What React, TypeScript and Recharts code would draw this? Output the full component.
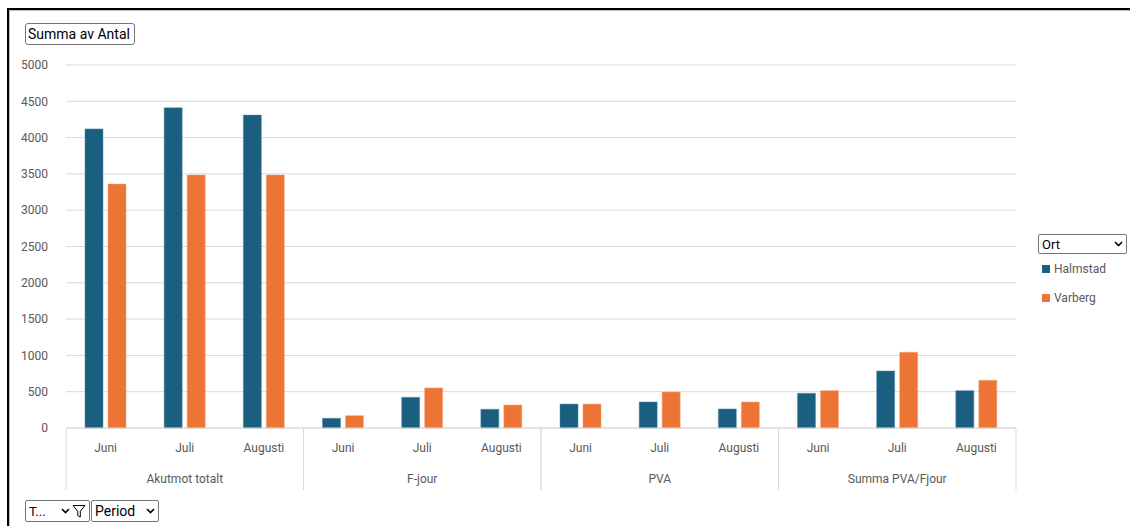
import { BarChart, Bar, XAxis, YAxis, CartesianGrid } from 'recharts';

const groups = ['Akutmot totalt', 'F-jour', 'PVA', 'Summa PVA/Fjour'];
const months = ['Juni', 'Juli', 'Augusti'];
const halmstad = [4120, 4410, 4310, 134, 423, 258, 330, 358, 262, 478, 785, 514];
const varberg = [3360, 3485, 3485, 170, 551, 317, 330, 496, 358, 514, 1043, 657];
const yTicks = [0, 500, 1000, 1500, 2000, 2500, 3000, 3500, 4000, 4500, 5000];
const series = [
  { name: 'Halmstad', color: '#1a5e80', edge: '#5a8aa3' },
  { name: 'Varberg', color: '#ec7434', edge: '#f3a37a' },
];

const data = halmstad.map((h, i) => ({
  key: `${groups[Math.floor(i / 3)]}|${months[i % 3]}`,
  month: months[i % 3],
  group: groups[Math.floor(i / 3)],
  Halmstad: h,
  Varberg: varberg[i],
}));

const W = 1130;
const H = 526;
const PLOT_LEFT = 66;
const PLOT_RIGHT = 1016;
const STEP = (PLOT_RIGHT - PLOT_LEFT) / data.length;
const FONT = 'Roboto, "Liberation Sans", sans-serif';
const GREY = '#d9d9d9';
const TEXT = '#595959';

function CategoryTick(props: any) {
  const { x, y, index } = props;
  const d = data[index];
  return (
    <g>
      <text x={x} y={y + 16} textAnchor="middle" fill={TEXT} fontSize={12} fontFamily={FONT}>
        {d ? d.month : ''}
      </text>
      {index % 3 === 0 && (
        <line x1={x - STEP / 2} x2={x - STEP / 2} y1={y - 7} y2={y + 54} stroke={GREY} />
      )}
      {index % 3 === 2 && (
        <line x1={x + STEP / 2} x2={x + STEP / 2} y1={y - 7} y2={y + 54} stroke={GREY} />
      )}
      {index % 3 === 1 && d && (
        <text x={x} y={y + 47} textAnchor="middle" fill={TEXT} fontSize={12} fontFamily={FONT}>
          {d.group}
        </text>
      )}
    </g>
  );
}

function Chevron() {
  return (
    <svg width={9} height={6} viewBox="0 0 9 6" style={{ display: 'block' }}>
      <path d="M1 1 L4.5 4.5 L8 1" fill="none" stroke="#000" strokeWidth={1.6} />
    </svg>
  );
}

const box: React.CSSProperties = {
  position: 'absolute',
  border: '1px solid #767676',
  borderRadius: 2,
  fontFamily: FONT,
  fontSize: 13,
  color: '#000',
  background: '#fff',
  boxSizing: 'border-box',
  display: 'flex',
  alignItems: 'center',
  padding: '0 3px',
};

export default function App() {
  return (
    <div style={{ position: 'fixed', left: 0, top: 0, width: W, height: H, background: '#fff', overflow: 'hidden' }}>
      <div
        style={{
          position: 'absolute',
          left: 7,
          top: 8,
          width: W,
          height: H,
          borderTop: '2px solid #000',
          borderLeft: '2px solid #000',
          boxShadow: 'inset 1px 1px 0 #bbb',
        }}
      />
      <BarChart
        width={W}
        height={H}
        data={data}
        margin={{ top: 65, right: W - PLOT_RIGHT, bottom: 0, left: 0 }}
        barCategoryGap="24%"
        barGap={5}
      >
        <CartesianGrid vertical={false} stroke={GREY} />
        <XAxis
          dataKey="key"
          height={H - 428}
          axisLine={{ stroke: GREY }}
          tickLine={false}
          interval={0}
          tick={<CategoryTick />}
        />
        <YAxis
          width={PLOT_LEFT}
          domain={[0, 5000]}
          ticks={yTicks}
          axisLine={false}
          tickLine={false}
          tickSize={0}
          tickMargin={18}
          tick={{ fill: TEXT, fontSize: 12, fontFamily: FONT }}
        />
        {series.map((s) => (
          <Bar key={s.name} dataKey={s.name} fill={s.color} stroke={s.edge} strokeWidth={0.5} isAnimationActive={false} />
        ))}
      </BarChart>

      <div style={{ ...box, left: 1038, top: 234, width: 89, height: 20, justifyContent: 'space-between', fontSize: 13 }}>
        <span>Ort</span>
        <Chevron />
      </div>
      {series.map((s, i) => (
        <div
          key={s.name}
          style={{
            position: 'absolute',
            left: 1042,
            top: 262 + i * 29,
            display: 'flex',
            alignItems: 'center',
            fontFamily: FONT,
            fontSize: 12,
            color: TEXT,
          }}
        >
          <span style={{ width: 8, height: 8, background: s.color, display: 'inline-block', marginRight: 4 }} />
          <span>{s.name}</span>
        </div>
      ))}

      <div style={{ ...box, left: 25, top: 23, width: 110, height: 22, padding: '0 2px', borderRadius: 3, fontSize: 14 }}>
        Summa av Antal
      </div>
      <div style={{ ...box, left: 25, top: 500, width: 65, height: 22, justifyContent: 'space-between' }}>
        <span>T...</span>
        <span style={{ display: 'flex', alignItems: 'center', gap: 2 }}>
          <Chevron />
          <svg width={14} height={14} viewBox="0 0 14 14" style={{ display: 'block' }}>
            <path d="M1 1.5 H13 L8.3 7.2 V13 L5.7 11.5 V7.2 Z" fill="none" stroke="#000" strokeWidth={1} />
          </svg>
        </span>
      </div>
      <div style={{ ...box, left: 91, top: 500, width: 68, height: 22, justifyContent: 'space-between', fontSize: 14 }}>
        <span>Period</span>
        <Chevron />
      </div>
    </div>
  );
}
